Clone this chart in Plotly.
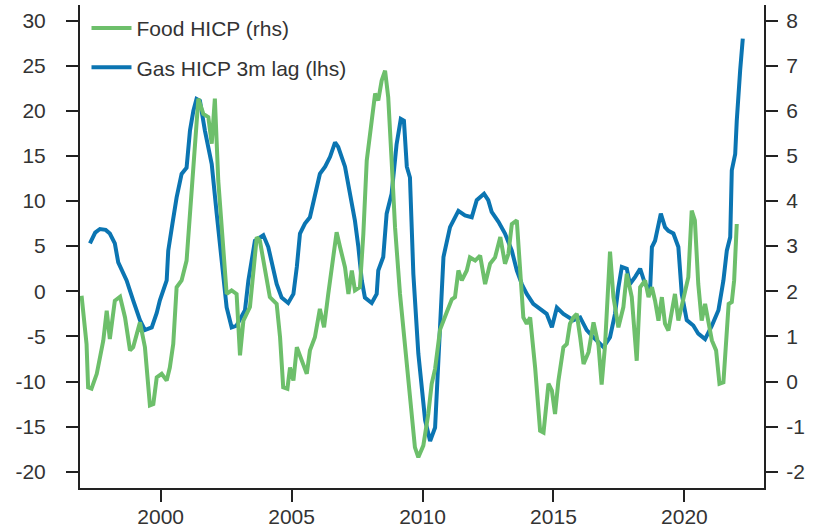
import plotly.graph_objects as go

# Gas HICP, 3m lag (lhs, % y/y)
gas_years = [1997.30, 1997.50, 1997.68, 1997.90, 1998.06, 1998.25, 1998.38, 1998.55, 1998.70, 1998.95,
             1999.21, 1999.40, 1999.66, 1999.85, 1999.97, 2000.23, 2000.29, 2000.45, 2000.61, 2000.80,
             2000.99, 2001.12, 2001.25, 2001.37, 2001.50, 2001.69, 2001.95, 2002.14, 2002.33, 2002.52,
             2002.71, 2002.90, 2003.22, 2003.35, 2003.60, 2003.92, 2004.11, 2004.30, 2004.43, 2004.62,
             2004.87, 2005.07, 2005.20, 2005.32, 2005.51, 2005.70, 2005.89, 2006.08, 2006.28, 2006.47,
             2006.66, 2006.78, 2007.04, 2007.23, 2007.42, 2007.55, 2007.68, 2007.80, 2008.06, 2008.25,
             2008.31, 2008.50, 2008.63, 2008.82, 2009.01, 2009.17, 2009.29, 2009.40, 2009.52, 2009.65,
             2009.84, 2010.10, 2010.29, 2010.48, 2010.61, 2010.73, 2010.80, 2011.05, 2011.37, 2011.62,
             2011.88, 2012.07, 2012.35, 2012.51, 2012.64, 2012.90, 2013.15, 2013.41, 2013.60, 2013.79,
             2013.98, 2014.23, 2014.49, 2014.74, 2014.94, 2015.13, 2015.38, 2015.76, 2016.02, 2016.27,
             2016.53, 2016.91, 2017.16, 2017.35, 2017.48, 2017.61, 2017.80, 2017.92, 2018.12, 2018.31,
             2018.50, 2018.69, 2018.76, 2018.88, 2019.10, 2019.26, 2019.39, 2019.58, 2019.77, 2019.90,
             2020.09, 2020.34, 2020.53, 2020.79, 2021.05, 2021.30, 2021.49, 2021.62, 2021.75, 2021.81,
             2021.94, 2022.00, 2022.13, 2022.23]
gas_values = [5.3, 6.5, 6.9, 6.8, 6.4, 5.3, 3.2, 2.2, 1.2, -1.0,
              -3.2, -4.3, -4.0, -2.4, -1.0, 1.2, 4.5, 7.5, 10.4, 13.0,
              13.7, 17.8, 20.0, 21.3, 21.1, 17.8, 14.1, 8.6, 3.0, -1.8,
              -4.0, -3.8, -2.1, 1.2, 5.6, 6.2, 4.9, 2.7, 0.8, -0.7,
              -1.3, -0.3, 2.7, 6.4, 7.5, 8.2, 10.8, 13.0, 13.8, 14.9,
              16.5, 16.0, 13.8, 10.8, 7.8, 4.9, 1.2, -0.7, -1.3, -0.3,
              2.3, 3.8, 8.6, 10.8, 16.3, 19.1, 18.9, 13.8, 12.6, 1.9,
              -6.9, -14.3, -16.6, -15.1, -6.6, 0.1, 3.8, 7.1, 8.9, 8.4,
              8.2, 10.1, 10.8, 10.1, 8.8, 7.7, 6.4, 4.5, 2.3, 0.8,
              -0.3, -1.4, -2.0, -2.5, -4.0, -1.8, -2.5, -3.2, -2.9, -4.3,
              -5.1, -6.2, -5.1, -2.5, 0.4, 2.7, 2.5, 0.8, 1.6, 2.5,
              0.8, 0.1, 4.9, 5.6, 8.6, 7.1, 6.7, 6.4, 4.9, -0.3,
              -3.2, -3.8, -4.7, -5.3, -3.8, -2.1, 1.2, 4.5, 6.0, 13.4,
              15.2, 18.9, 24.5, 28.0]

# Food HICP (rhs, % y/y)
food_years = [1996.98, 1997.17, 1997.23, 1997.36, 1997.56, 1997.68, 1997.81, 1997.94, 1998.06, 1998.25,
              1998.45, 1998.64, 1998.83, 1998.95, 1999.21, 1999.40, 1999.59, 1999.72, 1999.85, 2000.04,
              2000.23, 2000.35, 2000.48, 2000.61, 2000.80, 2000.99, 2001.12, 2001.31, 2001.44, 2001.63,
              2001.82, 2001.95, 2002.07, 2002.20, 2002.39, 2002.52, 2002.71, 2002.90, 2003.03, 2003.16,
              2003.41, 2003.67, 2003.79, 2003.98, 2004.17, 2004.43, 2004.56, 2004.68, 2004.84, 2004.94,
              2005.07, 2005.20, 2005.39, 2005.58, 2005.70, 2005.89, 2006.08, 2006.24, 2006.40, 2006.59,
              2006.72, 2006.85, 2007.04, 2007.17, 2007.30, 2007.42, 2007.61, 2007.74, 2007.87, 2008.06,
              2008.19, 2008.31, 2008.44, 2008.57, 2008.69, 2008.82, 2008.95, 2009.14, 2009.33, 2009.52,
              2009.71, 2009.84, 2010.03, 2010.22, 2010.35, 2010.48, 2010.67, 2010.92, 2011.12, 2011.24,
              2011.37, 2011.50, 2011.69, 2011.81, 2012.01, 2012.20, 2012.39, 2012.58, 2012.77, 2012.97,
              2013.15, 2013.28, 2013.41, 2013.60, 2013.72, 2013.85, 2013.98, 2014.11, 2014.30, 2014.49,
              2014.62, 2014.81, 2014.94, 2015.06, 2015.19, 2015.38, 2015.51, 2015.63, 2015.76, 2015.89,
              2016.02, 2016.15, 2016.34, 2016.53, 2016.72, 2016.84, 2016.97, 2017.16, 2017.29, 2017.48,
              2017.67, 2017.80, 2017.99, 2018.18, 2018.31, 2018.50, 2018.63, 2018.76, 2018.88, 2019.01,
              2019.14, 2019.26, 2019.39, 2019.52, 2019.64, 2019.77, 2019.90, 2020.02, 2020.15, 2020.28,
              2020.40, 2020.53, 2020.66, 2020.79, 2020.92, 2021.05, 2021.21, 2021.34, 2021.49, 2021.60,
              2021.69, 2021.81, 2021.90, 2022.00]
food_values = [1.90, 0.83, -0.13, -0.16, 0.17, 0.54, 0.91, 1.57, 0.94, 1.79,
               1.88, 1.42, 0.69, 0.76, 1.31, 0.76, -0.53, -0.50, 0.09, 0.17,
               0.02, 0.31, 0.83, 2.09, 2.24, 2.68, 3.72, 5.19, 6.27, 5.93,
               5.86, 5.27, 6.27, 4.45, 2.83, 1.94, 2.02, 1.94, 0.58, 1.35,
               1.65, 3.20, 3.12, 2.53, 1.87, 1.72, 0.98, -0.13, -0.16, 0.31,
               0.02, 0.76, 0.46, 0.17, 0.69, 0.98, 1.61, 1.20, 1.94, 2.68,
               3.31, 2.98, 2.53, 1.94, 2.46, 2.02, 2.09, 3.27, 4.90, 5.78,
               6.38, 6.23, 6.67, 6.89, 6.30, 4.90, 3.42, 1.94, 0.83, -0.28,
               -1.46, -1.68, -1.42, -0.72, -0.05, 0.28, 1.15, 1.53, 1.82, 1.87,
               2.46, 2.24, 2.46, 2.75, 2.68, 2.79, 2.16, 2.61, 2.75, 3.20,
               2.61, 2.83, 3.49, 3.57, 2.53, 1.42, 1.28, 1.42, 0.31, -1.09,
               -1.13, -0.05, -0.20, -0.72, 0.02, 0.76, 0.83, 1.28, 1.42, 1.50,
               0.98, 0.39, 0.65, 1.31, 0.80, -0.07, 0.80, 2.88, 1.87, 1.20,
               1.65, 2.39, 1.87, 0.46, 2.09, 2.24, 1.87, 2.09, 1.79, 1.35,
               1.87, 1.28, 1.13, 1.50, 1.94, 1.35, 1.65, 1.94, 2.31, 3.79,
               3.57, 2.16, 1.35, 1.72, 1.28, 0.91, 0.69, -0.05, -0.02, 0.98,
               1.72, 1.76, 2.24, 3.49]

x_ticks = [2000, 2005, 2010, 2015, 2020]
lhs_ticks = [-20, -15, -10, -5, 0, 5, 10, 15, 20, 25, 30]
rhs_ticks = [-2, -1, 0, 1, 2, 3, 4, 5, 6, 7, 8]

GREEN = "#6dbf6b"
BLUE = "#0b75b2"
INK = "#333333"

fig = go.Figure()
fig.add_trace(go.Scatter(x=gas_years, y=gas_values, mode="lines", name="Gas HICP 3m lag (lhs)",
                         line=dict(color=BLUE, width=4), legendrank=2, legendgroup="gas"))
fig.add_trace(go.Scatter(x=food_years, y=food_values, mode="lines", name="Food HICP (rhs)",
                         line=dict(color=GREEN, width=4), yaxis="y2", legendrank=1, legendgroup="food"))

axis_common = dict(showline=True, linecolor="#222222", linewidth=2, showgrid=False, zeroline=False,
                   ticks="outside", ticklen=12, tickwidth=2, tickcolor="#222222",
                   tickfont=dict(size=21, color=INK))

fig.update_layout(
    width=825, height=531,
    margin=dict(l=80, r=61, t=5, b=43, autoexpand=False),
    paper_bgcolor="white", plot_bgcolor="white",
    font=dict(family="Liberation Sans, Arial, sans-serif", color=INK, size=20),
    xaxis=dict(range=[1996.92, 2023.04], tickvals=x_ticks, ticklabelstandoff=-3, **axis_common),
    yaxis=dict(range=[-21.8, 31.72], tickvals=lhs_ticks, ticktext=[str(v) for v in lhs_ticks],
               ticklabelstandoff=16, **axis_common),
    yaxis2=dict(range=[-2.36, 8.344], tickvals=rhs_ticks, ticktext=[str(v) for v in rhs_ticks],
                overlaying="y", side="right", ticklabelstandoff=4, **axis_common),
    showlegend=True,
    legend=dict(x=0.0095, y=0.994, xanchor="left", yanchor="top", bgcolor="rgba(0,0,0,0)",
                tracegroupgap=9, itemwidth=40, font=dict(size=21, color=INK)),
)

# page body has a default 8px margin; drop it so the figure sits at the window origin
fig.write_html("out.html", config={"displayModeBar": False},
               post_script="document.body.style.margin='0';")
